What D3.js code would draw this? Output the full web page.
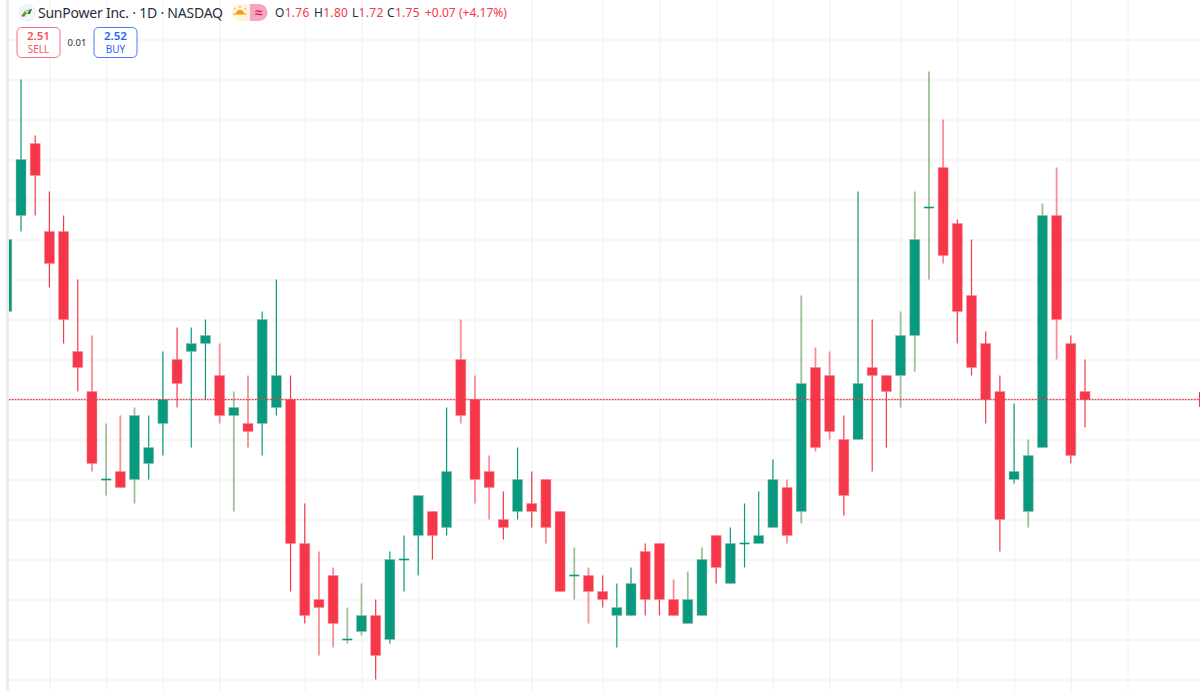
<!DOCTYPE html>
<html>
<head>
<meta charset="utf-8">
<script src="https://cdn.jsdelivr.net/npm/d3@7"></script>
<style>
  html, body { margin: 0; padding: 0; background: #fff; }
  svg { display: block; }
  text { font-family: "Noto Sans", sans-serif; }
</style>
</head>
<body>
<svg id="chart" width="1200" height="691"></svg>
<script>
// the first bar sits behind the left edge, only its right side shows
var opens = [1.86, 1.98,2.07,1.96,1.96,1.81,1.76,1.65,1.66,1.65,1.67,
  1.72,1.80,1.81,1.82,1.78,1.73,1.72,1.72,1.74,1.75,
  1.57,1.50,1.53,1.45,1.46,1.48,1.45,1.55,1.58,1.61,
  1.59,1.80,1.75,1.66,1.60,1.61,1.62,1.65,1.61,1.53,
  1.53,1.51,1.48,1.48,1.56,1.57,1.50,1.47,1.48,1.58,
  1.52,1.57,1.57,1.59,1.64,1.61,1.79,1.78,1.70,1.70,
  1.79,1.78,1.78,1.83,1.99,2.04,1.97,1.88,1.82,1.76,
  1.65,1.61,1.69,1.98,1.82,1.76];
var highs = [1.95, 2.15,2.08,2.01,1.98,1.90,1.83,1.72,1.73,1.74,1.73,
  1.81,1.84,1.84,1.85,1.82,1.76,1.78,1.86,1.90,1.78,
  1.62,1.56,1.54,1.49,1.52,1.50,1.56,1.58,1.63,1.61,
  1.74,1.85,1.78,1.68,1.635,1.69,1.66,1.65,1.61,1.565,
  1.54,1.53,1.52,1.54,1.57,1.57,1.525,1.535,1.565,1.58,
  1.59,1.62,1.635,1.675,1.65,1.88,1.815,1.81,1.73,2.01,
  1.85,1.78,1.86,2.01,2.16,2.10,1.975,1.95,1.835,1.78,
  1.745,1.70,1.995,2.04,1.83,1.80];
var lows = [1.86, 1.96,1.98,1.89,1.82,1.76,1.66,1.63,1.64,1.62,1.65,
  1.68,1.74,1.69,1.75,1.72,1.61,1.69,1.68,1.73,1.51,
  1.47,1.43,1.44,1.445,1.455,1.40,1.445,1.51,1.53,1.55,
  1.58,1.72,1.62,1.60,1.575,1.60,1.59,1.57,1.51,1.50,
  1.47,1.49,1.44,1.48,1.48,1.48,1.48,1.47,1.48,1.52,
  1.52,1.54,1.57,1.59,1.57,1.595,1.685,1.70,1.605,1.70,
  1.66,1.69,1.74,1.785,1.90,1.92,1.82,1.78,1.72,1.56,
  1.645,1.59,1.69,1.80,1.67,1.715];
var closes = [1.95, 2.05,2.03,1.92,1.85,1.79,1.67,1.65,1.64,1.73,1.69,
  1.75,1.77,1.82,1.83,1.73,1.74,1.71,1.85,1.78,1.57,
  1.48,1.49,1.47,1.45,1.48,1.43,1.55,1.55,1.63,1.58,
  1.66,1.73,1.65,1.64,1.59,1.65,1.61,1.59,1.51,1.53,
  1.51,1.50,1.49,1.52,1.50,1.50,1.48,1.50,1.55,1.54,
  1.57,1.57,1.58,1.65,1.58,1.77,1.69,1.71,1.63,1.77,
  1.78,1.76,1.83,1.95,1.99,1.93,1.86,1.79,1.75,1.60,
  1.66,1.68,1.98,1.85,1.68,1.75];

// bars whose wick came out blurred and pale in the screenshot
var softWicks = [6,7,8,9,15,16,17,22,23,24,25,32,33,34,38,40,41,47,48,49,55,56,57,58,63,64,65,66,72,73,74];

var priceTicks = [2.20,2.15,2.10,2.05,2.00,1.95,1.90,1.85,1.80,1.75,1.70,1.65,1.60,1.55,1.50,1.45,1.40];
var timeTicks = [3,7,11,15,21,25,29,33,37,42,46,50,54,58,63,67,71,75,79];
var lastPrice = 1.75;
var legendItems = [["O", "1.76", 275], ["H", "1.80", 314], ["L", "1.72", 352], ["C", "1.75", 387]];

var GREEN = "#089981", RED = "#f53749";
var LEFT = 9, RIGHT = 1200, BOTTOM = 691;

var svg = d3.select("#chart");
var x = d3.scaleLinear().domain([0, 76]).range([6.83, 1085]);
var y = d3.scaleLinear().domain([1.40, 2.20]).range([679.5, 39.5]);

svg.append("rect").attr("x", 6).attr("y", 0).attr("width", 3).attr("height", BOTTOM).attr("fill", "#ececec");

var defs = svg.append("defs");
defs.append("clipPath").attr("id", "plot").append("rect")
  .attr("x", LEFT).attr("y", 0).attr("width", RIGHT - LEFT).attr("height", BOTTOM);

var axisY = d3.axisLeft(y).tickValues(priceTicks).tickSize(-(RIGHT - LEFT)).tickFormat("");
var axisX = d3.axisBottom(x).tickValues(timeTicks).tickSize(-BOTTOM).tickFormat("");

var gridY = svg.append("g").attr("transform", "translate(" + LEFT + ",0)").call(axisY);
var gridX = svg.append("g").attr("transform", "translate(0," + BOTTOM + ")").call(axisX);
[gridY, gridX].forEach(function (g) {
  g.select(".domain").remove();
  g.selectAll("line").attr("stroke", "#f4f4f6").attr("stroke-width", 1.3);
});

var plot = svg.append("g").attr("clip-path", "url(#plot)");

var candles = d3.range(opens.length);
var isUp = function (i) { return closes[i] >= opens[i]; };
var colorOf = function (i) { return isUp(i) ? GREEN : RED; };
var softOf = function (i) { return isUp(i) ? "#9fc097" : "#f98d98"; };
var isFlat = function (i) { return opens[i] === closes[i]; };

// wicks
plot.selectAll("line.wick").data(candles).join("line")
  .attr("class", "wick")
  .attr("x1", function (i) { return x(i); })
  .attr("x2", function (i) { return x(i); })
  .attr("y1", function (i) { return y(highs[i]); })
  .attr("y2", function (i) { return y(lows[i]); })
  .attr("stroke", function (i) { return softWicks.indexOf(i) >= 0 ? softOf(i) : colorOf(i); })
  .attr("stroke-width", function (i) { return softWicks.indexOf(i) >= 0 ? 1.8 : 1.2; });

// bodies, flat ones are a thin dash
plot.selectAll("rect.body").data(candles).join("rect")
  .attr("class", "body")
  .attr("x", function (i) { return x(i) - 5; })
  .attr("width", 10)
  .attr("y", function (i) { return isFlat(i) ? y(opens[i]) - 0.8 : y(Math.max(opens[i], closes[i])); })
  .attr("height", function (i) { return isFlat(i) ? 1.6 : Math.abs(y(opens[i]) - y(closes[i])); })
  .attr("fill", colorOf)
  .attr("stroke", function (i) { return isFlat(i) ? "none" : softOf(i); })
  .attr("stroke-opacity", 0.6)
  .attr("stroke-width", 0.8);

// last price line, pale underlay keeps the dots reading as red
plot.append("line")
  .attr("x1", LEFT).attr("x2", RIGHT)
  .attr("y1", y(lastPrice)).attr("y2", y(lastPrice))
  .attr("stroke", "#f23645").attr("stroke-opacity", 0.22).attr("stroke-width", 2);
plot.append("line")
  .attr("x1", LEFT).attr("x2", RIGHT)
  .attr("y1", y(lastPrice)).attr("y2", y(lastPrice))
  .attr("stroke", "#f23645").attr("stroke-width", 1.2).attr("stroke-dasharray", "1.5 1.5");
svg.append("rect").attr("x", 1199).attr("y", 392).attr("width", 1).attr("height", 15).attr("fill", RED);

// header
var head = svg.append("g");
head.append("circle").attr("cx", 27).attr("cy", 13).attr("r", 9).attr("fill", "#f0f3fa");
head.append("path").attr("d", "M21 16 L25 11 L27 13 L24 17 Z").attr("fill", "#5a9e2f");
head.append("path").attr("d", "M27 14 L30 9 L32 9 L30 14 Z").attr("fill", "#2e7d32");
head.append("path").attr("d", "M24 11 L32 9 L29 11 Z").attr("fill", "#7cb342");
head.append("text").attr("x", 38).attr("y", 18).attr("font-size", 14).attr("fill", "#2a2e39")
  .attr("textLength", 185).attr("lengthAdjust", "spacing")
  .text("SunPower Inc. · 1D · NASDAQ");

// market status badge
head.append("path").attr("d", "M240 4 H250 V21 H240 A8.5 8.5 0 0 1 240 4 Z").attr("fill", "#fff3e0");
head.append("path").attr("d", "M250 4 H259 A8.5 8.5 0 0 1 259 21 H250 Z").attr("fill", "#f4a6bf");
head.append("path").attr("d", "M236 14 A4 4 0 0 1 244 14 Z").attr("fill", "#ff9800");
head.append("path").attr("d", "M240 6 V8 M234 8 L235.5 9.5 M246 8 L244.5 9.5 M233 14 H247")
  .attr("stroke", "#ff9800").attr("stroke-width", 1).attr("fill", "none");
head.append("text").attr("x", 258.5).attr("y", 17).attr("text-anchor", "middle")
  .attr("font-size", 13).attr("font-weight", 700).attr("fill", "#d81b60").text("≈");

// O H L C readout
var legend = head.append("text").attr("y", 17).attr("font-size", 12).attr("letter-spacing", 0.3);
legendItems.forEach(function (d) {
  legend.append("tspan").attr("x", d[2]).attr("fill", "#2a2e39").text(d[0]);
  legend.append("tspan").attr("fill", RED).text(d[1]);
});
legend.append("tspan").attr("x", 425).attr("fill", RED).attr("letter-spacing", 0).text("+0.07");
legend.append("tspan").attr("x", 459).attr("fill", RED).attr("letter-spacing", 0).text("(+4.17%)");

// sell / buy buttons
var buttons = [
  { x: 17, price: "2.51", side: "SELL", color: "#f7525f" },
  { x: 94, price: "2.52", side: "BUY", color: "#2962ff" }
];
buttons.forEach(function (b) {
  var g = head.append("g");
  g.append("rect").attr("x", b.x).attr("y", 27.5).attr("width", 43).attr("height", 30).attr("rx", 4.5)
    .attr("fill", "#fff").attr("stroke", b.color).attr("stroke-opacity", 0.85).attr("stroke-width", 1);
  g.append("text").attr("x", b.x + 21.5).attr("y", 40).attr("text-anchor", "middle")
    .attr("font-size", 11.5).attr("font-weight", 600).attr("fill", b.color).text(b.price);
  g.append("text").attr("x", b.x + 21.5).attr("y", 53).attr("text-anchor", "middle")
    .attr("font-size", 10).attr("fill", b.color).text(b.side);
});
head.append("text").attr("x", 77).attr("y", 46).attr("text-anchor", "middle")
  .attr("font-size", 9.5).attr("fill", "#2a2e39").text("0.01");
</script>
</body>
</html>
